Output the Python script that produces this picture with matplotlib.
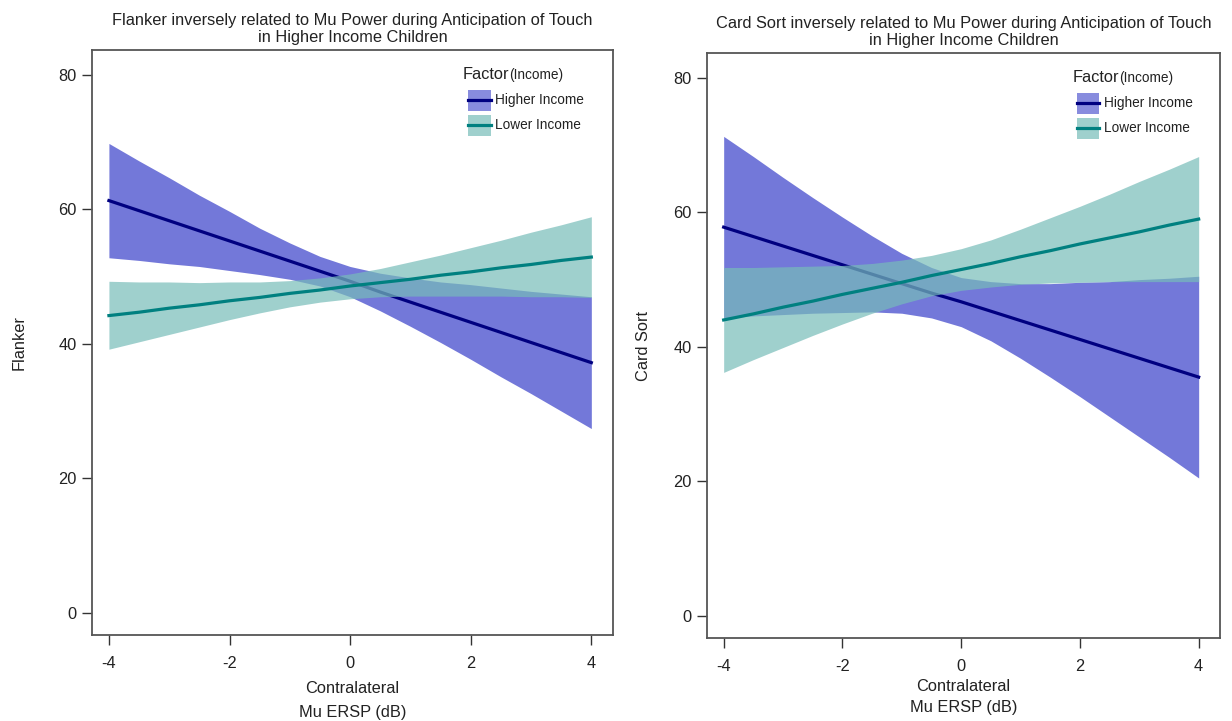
import numpy as np
import matplotlib
matplotlib.use("Agg")
import matplotlib.pyplot as plt
from matplotlib.patches import Rectangle

plt.rcParams['font.family'] = ['Liberation Sans', 'DejaVu Sans']

# x grid of the effect curves (Mu ERSP, dB)
ersp = [-4, -3.5, -3, -2.5, -2, -1.5, -1, -0.5, 0, 0.5, 1, 1.5, 2, 2.5, 3, 3.5, 4]

# Flanker panel
flk_hi_fit = [61.3, 59.8, 58.3, 56.8, 55.3, 53.8, 52.3, 50.8, 49.3, 47.7, 46.2, 44.7, 43.2, 41.7, 40.2, 38.7, 37.2]
flk_hi_up = [69.8, 67.2, 64.7, 62.1, 59.7, 57.2, 55.0, 53.0, 51.5, 50.5, 49.8, 49.2, 48.8, 48.3, 47.8, 47.4, 47.0]
flk_hi_lo = [52.8, 52.4, 51.9, 51.5, 50.9, 50.3, 49.6, 48.6, 47.0, 44.9, 42.6, 40.2, 37.7, 35.1, 32.6, 30.0, 27.4]
flk_lo_fit = [44.2, 44.7, 45.3, 45.8, 46.4, 46.9, 47.5, 48.0, 48.6, 49.1, 49.6, 50.2, 50.7, 51.3, 51.8, 52.4, 52.9]
flk_lo_up = [49.3, 49.2, 49.2, 49.1, 49.2, 49.2, 49.4, 49.8, 50.4, 51.2, 52.2, 53.2, 54.3, 55.4, 56.6, 57.7, 58.9]
flk_lo_lo = [39.2, 40.3, 41.4, 42.5, 43.6, 44.6, 45.5, 46.2, 46.7, 47.0, 47.1, 47.1, 47.1, 47.1, 47.0, 47.0, 46.9]

# Card Sort panel
cs_hi_fit = [57.8, 56.4, 55.0, 53.6, 52.2, 50.8, 49.4, 48.0, 46.7, 45.3, 43.9, 42.5, 41.1, 39.7, 38.3, 36.9, 35.5]
cs_hi_up = [71.3, 68.3, 65.2, 62.2, 59.3, 56.5, 53.9, 51.8, 50.3, 49.7, 49.4, 49.4, 49.6, 49.7, 50.0, 50.2, 50.5]
cs_hi_lo = [44.3, 44.6, 44.8, 45.0, 45.1, 45.2, 45.0, 44.3, 43.0, 40.9, 38.3, 35.5, 32.6, 29.6, 26.6, 23.6, 20.5]
cs_lo_fit = [44.0, 44.9, 45.9, 46.8, 47.8, 48.7, 49.6, 50.6, 51.5, 52.4, 53.4, 54.3, 55.3, 56.2, 57.1, 58.1, 59.0]
cs_lo_up = [51.8, 51.8, 51.9, 52.0, 52.1, 52.4, 52.9, 53.6, 54.6, 55.9, 57.5, 59.2, 60.9, 62.7, 64.6, 66.4, 68.3]
cs_lo_lo = [36.2, 38.1, 39.9, 41.7, 43.4, 45.0, 46.4, 47.6, 48.4, 48.9, 49.3, 49.5, 49.6, 49.7, 49.7, 49.7, 49.7]

group_names = ['Higher Income', 'Lower Income']
x_ticks = [-4, -2, 0, 2, 4]
y_ticks = [0, 20, 40, 60, 80]

HI_FILL = '#7378d9'
HI_LINE = '#000080'
LO_FILL = '#77bcb9'
LO_ALPHA = 0.7
LO_LINE = '#008080'
TXT = '#222222'


def draw_panel(ax, title, ylabel, ylabpad, xlab_pad, xlab_ls, hi, lo):
    hi_fit, hi_up, hi_lo = hi
    lo_fit, lo_up, lo_lo = lo
    # blue band + line first, teal band drawn over them
    ax.fill_between(ersp, hi_lo, hi_up, color=HI_FILL, lw=0, zorder=1)
    ax.plot(ersp, hi_fit, color=HI_LINE, lw=2.3, zorder=2)
    ax.fill_between(ersp, lo_lo, lo_up, color=LO_FILL, alpha=LO_ALPHA, lw=0, zorder=3)
    ax.plot(ersp, lo_fit, color=LO_LINE, lw=2.3, zorder=4)

    ax.set_xlim(-4.28, 4.36)
    ax.set_ylim(-3.3, 83.7)
    ax.set_xticks(x_ticks)
    ax.set_xticklabels([str(v) for v in x_ticks])
    ax.set_yticks(y_ticks)
    ax.tick_params(direction='out', length=7, width=1, color='#333333',
                   labelsize=11.8, labelcolor=TXT, pad=4)
    ax.tick_params(axis='x', pad=8)
    for sp in ax.spines.values():
        sp.set_color('#555555')
        sp.set_linewidth(1.3)

    ax.set_title(title, fontsize=11.8, color=TXT, pad=6, linespacing=1.15)
    ax.set_ylabel(ylabel, fontsize=11.8, color=TXT, labelpad=ylabpad)
    ax.set_xlabel('Contralateral\nMu ERSP (dB)', fontsize=11.8, color=TXT,
                  linespacing=xlab_ls, labelpad=xlab_pad)

    # legend, built by hand in axes coordinates
    tr = ax.transAxes
    t = ax.text(0.712, 0.958, 'Factor', transform=tr, fontsize=11.8,
                color=TXT, va='center', ha='left')
    ax.figure.canvas.draw()
    bb = t.get_window_extent().transformed(tr.inverted())
    ax.text(bb.x1, 0.957, '(Income)', transform=tr, fontsize=9.8,
            color=TXT, va='center', ha='left')
    rows = [(0.914, HI_FILL, 0.85, HI_LINE), (0.871, LO_FILL, LO_ALPHA, LO_LINE)]
    for (yc, fill, a, line), name in zip(rows, group_names):
        ax.add_patch(Rectangle((0.721, yc - 0.018), 0.044, 0.036, transform=tr,
                               facecolor=fill, alpha=a, lw=0, zorder=5))
        ax.plot([0.721, 0.765], [yc, yc], transform=tr, color=line,
                lw=2.3, zorder=6)
        ax.text(0.773, yc, name, transform=tr, fontsize=9.8, color=TXT,
                va='center', ha='left')


fig = plt.figure(figsize=(12.32, 7.21), dpi=100)
ax1 = fig.add_axes([0.0747, 0.1193, 0.4229, 0.8114])
ax2 = fig.add_axes([0.5739, 0.1151, 0.4164, 0.8114])

draw_panel(ax1, 'Flanker inversely related to Mu Power during Anticipation of Touch\nin Higher Income Children',
           'Flanker', 23, 7, 1.75,
           (flk_hi_fit, flk_hi_up, flk_hi_lo), (flk_lo_fit, flk_lo_up, flk_lo_lo))
draw_panel(ax2, 'Card Sort inversely related to Mu Power during Anticipation of Touch\nin Higher Income Children',
           'Card Sort', 16, 4, 1.45,
           (cs_hi_fit, cs_hi_up, cs_hi_lo), (cs_lo_fit, cs_lo_up, cs_lo_lo))

fig.savefig('out.png', dpi=100)
